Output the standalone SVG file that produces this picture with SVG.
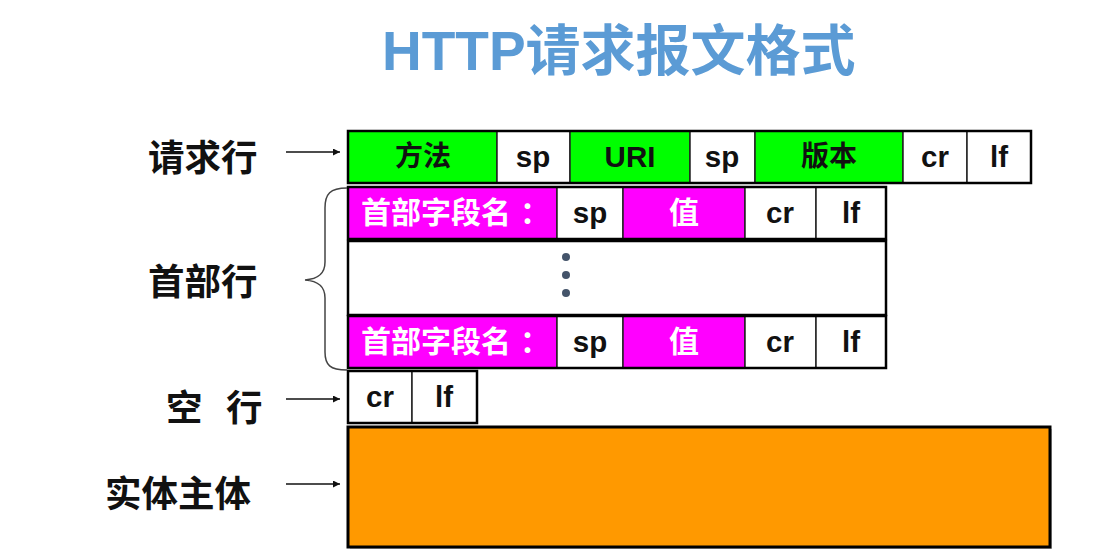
<svg xmlns="http://www.w3.org/2000/svg" width="1113" height="554" viewBox="0 0 1113 554">
  <style>
    .title { font-family: "Liberation Sans", "Noto Sans CJK SC", sans-serif; font-weight: bold; font-size: 55px; fill: #5B9BD5; }
    .label { font-family: "Liberation Sans", "Noto Sans CJK SC", sans-serif; font-weight: bold; font-size: 36.5px; fill: #111; }
    .cell-text { font-family: "Liberation Sans", "Noto Sans CJK SC", sans-serif; font-weight: bold; font-size: 29.5px; fill: #111; text-anchor: middle; dominant-baseline: central; }
    .cjk { font-size: 28px; }
    .field { fill: #fff; font-size: 30px; }
    .field-name { text-anchor: start; }
    .cell { stroke: #222; stroke-width: 1.5; }
    .frame { fill: none; stroke: #000; stroke-width: 2.5; }
    .green { fill: #00FF00; }
    .magenta { fill: #FF00FF; }
    .plain { fill: #fff; }
    .orange { fill: #FF9900; }
    .arrow { stroke: #111; stroke-width: 1.5; fill: none; marker-end: url(#head); }
    .brace { stroke: #444; stroke-width: 1.5; fill: none; }
    .dot { fill: #44546A; }
  </style>
  <defs>
    <marker id="head" viewBox="0 0 10 10" refX="10" refY="5" markerWidth="7" markerHeight="7" markerUnits="userSpaceOnUse" orient="auto">
      <path d="M0,0 L10,5 L0,10 Z" fill="#111"/>
    </marker>
  </defs>

  <g id="title">
    <text class="title" x="382" y="70">HTTP请求报文格式</text>
  </g>

  <g id="label-request"><text class="label" x="148" y="171">请求行</text></g>
  <g id="label-header"><text class="label" x="148" y="295">首部行</text></g>
  <g id="label-blank"><text class="label" x="166" y="421">空<tspan x="226">行</tspan></text></g>
  <g id="label-body"><text class="label" x="105" y="507">实体主体</text></g>

  <!-- request line: method sp URI sp version cr lf -->
  <g id="request-line">
    <rect class="cell green" x="348" y="131" width="149" height="52"/>
    <rect class="cell plain" x="497" y="131" width="73" height="52"/>
    <rect class="cell green" x="570" y="131" width="120" height="52"/>
    <rect class="cell plain" x="690" y="131" width="65" height="52"/>
    <rect class="cell green" x="755" y="131" width="148" height="52"/>
    <rect class="cell plain" x="903" y="131" width="64" height="52"/>
    <rect class="cell plain" x="967" y="131" width="64" height="52"/>
    <rect class="frame" x="348" y="131" width="683" height="52"/>
    <text class="cell-text cjk" x="423" y="156">方法</text>
    <text class="cell-text" x="533" y="156">sp</text>
    <text class="cell-text" x="630" y="156">URI</text>
    <text class="cell-text" x="722" y="156">sp</text>
    <text class="cell-text cjk" x="829" y="156">版本</text>
    <text class="cell-text" x="935" y="156">cr</text>
    <text class="cell-text" x="999" y="156">lf</text>
  </g>

  <!-- first header field line -->
  <g id="header-row-1">
    <rect class="cell magenta" x="348" y="187" width="209" height="52"/>
    <rect class="cell plain" x="557" y="187" width="66" height="52"/>
    <rect class="cell magenta" x="623" y="187" width="122" height="52"/>
    <rect class="cell plain" x="745" y="187" width="71" height="52"/>
    <rect class="cell plain" x="816" y="187" width="70" height="52"/>
    <rect class="frame" x="348" y="187" width="538" height="52"/>
    <text class="cell-text field field-name" x="361" y="212">首部字段名<tspan dx="9">：</tspan></text>
    <text class="cell-text" x="590" y="212">sp</text>
    <text class="cell-text field" x="684" y="212">值</text>
    <text class="cell-text" x="780" y="212">cr</text>
    <text class="cell-text" x="851" y="212">lf</text>
  </g>

  <!-- further header lines, elided -->
  <g id="header-ellipsis">
    <rect class="frame" x="348" y="241" width="538" height="74" fill="#fff"/>
    <circle class="dot" cx="566" cy="257" r="4"/>
    <circle class="dot" cx="566" cy="275" r="4"/>
    <circle class="dot" cx="566" cy="293" r="4"/>
  </g>

  <!-- last header field line -->
  <g id="header-row-2">
    <rect class="cell magenta" x="348" y="316" width="209" height="52"/>
    <rect class="cell plain" x="557" y="316" width="66" height="52"/>
    <rect class="cell magenta" x="623" y="316" width="122" height="52"/>
    <rect class="cell plain" x="745" y="316" width="71" height="52"/>
    <rect class="cell plain" x="816" y="316" width="70" height="52"/>
    <rect class="frame" x="348" y="316" width="538" height="52"/>
    <text class="cell-text field field-name" x="361" y="341">首部字段名<tspan dx="9">：</tspan></text>
    <text class="cell-text" x="590" y="341">sp</text>
    <text class="cell-text field" x="684" y="341">值</text>
    <text class="cell-text" x="780" y="341">cr</text>
    <text class="cell-text" x="851" y="341">lf</text>
  </g>

  <!-- blank line: cr lf -->
  <g id="blank-line">
    <rect class="cell plain" x="348" y="371" width="64" height="52"/>
    <rect class="cell plain" x="412" y="371" width="65" height="52"/>
    <rect class="frame" x="348" y="371" width="129" height="52"/>
    <text class="cell-text" x="380" y="396">cr</text>
    <text class="cell-text" x="444" y="396">lf</text>
  </g>

  <!-- message body -->
  <g id="entity-body">
    <rect x="350" y="429" width="702" height="120" fill="#555" opacity="0.35"/>
    <rect class="orange" x="348" y="427" width="702" height="120" stroke="#000" stroke-width="3"/>
  </g>

  <g id="connectors">
    <line class="arrow" x1="286" y1="152" x2="340" y2="152"/>
    <line class="arrow" x1="286" y1="399" x2="340" y2="399"/>
    <line class="arrow" x1="286" y1="484" x2="340" y2="484"/>
    <path class="brace" d="M347,188 C330,188 325,194 325,208 L325,262 C325,274 318,279 305,280 C318,281 325,286 325,298 L325,352 C325,365 330,370 347,370"/>
  </g>
</svg>
